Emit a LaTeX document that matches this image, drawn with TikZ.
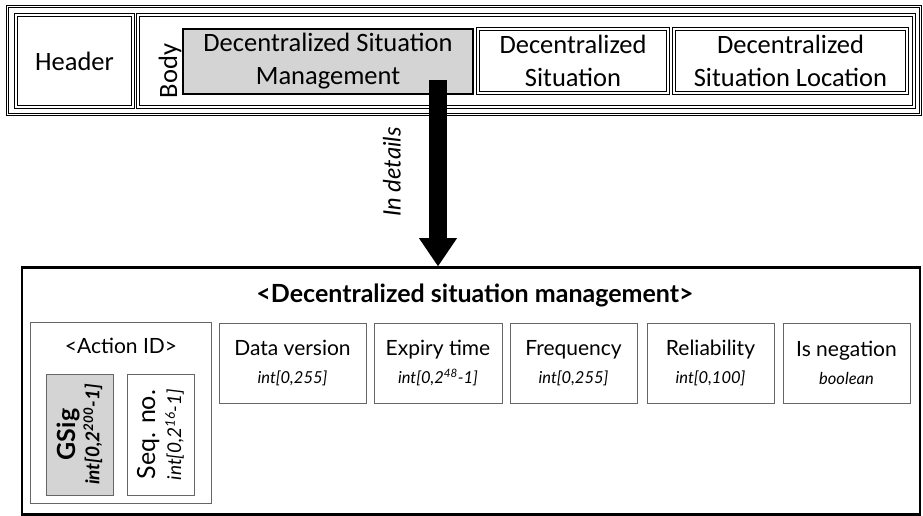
\documentclass[tikz,border=0pt]{standalone}
\usepackage{fontspec}
\setmainfont{Lato}
\newfontfamily\calfont{Carlito}
\usetikzlibrary{arrows.meta, positioning}

\newcommand{\fieldtext}[2]{#1\\{\fontsize{16.5}{28}\selectfont\itshape #2}}

\begin{document}
\begin{tikzpicture}[
    x=1pt, y=-1pt,
    frame/.style={rectangle, draw=black, double=white, double distance=1.6pt, line width=1.1pt, inner sep=0pt},
    msgbox/.style={rectangle, draw=black, double=white, double distance=1.6pt, line width=0.9pt,
                   align=center, inner sep=0pt, font=\calfont\fontsize{26.5}{33}\selectfont},
    selbox/.style={rectangle, draw, line width=2.2pt, fill=black!17,
                   align=center, inner sep=0pt, font=\calfont\fontsize{26.5}{33}\selectfont},
    field/.style={rectangle, draw=black!60, line width=0.9pt, align=center,
                  inner sep=0pt, font=\fontsize{21}{28}\selectfont},
    bigarrow/.style={-{Triangle[width=38pt, length=28pt, line width=0pt]}, line width=18pt}
  ]
  \useasboundingbox (0,0) rectangle (923,516);

  % ===== MESSAGE =====
  \node[frame, minimum width=913pt, minimum height=108pt] (msg) at (464,60.5) {};
  \node[msgbox, minimum width=117pt, minimum height=92pt] (header) at (74.5,61) {Header};
  \node[msgbox, minimum width=776pt, minimum height=92pt] (body) at (526,61) {};
  \node[rotate=90, font=\calfont\fontsize{26.5}{30}\selectfont] (bodylbl) at (170,71) {Body};

  % ===== BODY CONTAINERS =====
  \node[selbox, minimum width=290pt, minimum height=65pt] (dsm) at (328,61.5) {Decentralized Situation\\Management};
  \node[msgbox, minimum width=190pt, minimum height=64pt] (ds) at (573,61) {Decentralized\\Situation};
  \node[msgbox, minimum width=233pt, minimum height=64pt] (dsl) at (790.5,61) {Decentralized\\Situation Location};

  % ===== DETAIL VIEW =====
  \node[rectangle, draw, line width=2.6pt, minimum width=898pt, minimum height=247pt] (detail) at (471,391) {};
  \node[font=\fontsize{25}{28}\selectfont\bfseries] (title) at (475,295) {<Decentralized situation management>};

  % Action ID with its two parts
  \node[field, minimum width=181pt, minimum height=181pt] (actid) at (120.5,412.5) {};
  \node[font=\fontsize{21}{28}\selectfont] (actidlbl) at (121,346) {<Action ID>};
  \node[field, fill=black!17, rotate=90, minimum width=121pt, minimum height=67pt, font=\fontsize{25}{24}\selectfont\bfseries]
    (gsig) at (79.5,434.5) {GSig\\{\fontsize{19}{24}\selectfont\bfseries\itshape int[0,2\textsuperscript{200}-1]}};
  \node[field, rotate=90, minimum width=121pt, minimum height=67pt, font=\fontsize{25}{26}\selectfont]
    (seq) at (160.5,434.5) {Seq. no.\\{\fontsize{19}{26}\selectfont\itshape int[0,2\textsuperscript{16}-1]}};

  % Other fields
  \node[field, minimum width=147pt, minimum height=80pt] (dataver) at (292.5,363) {\fieldtext{Data version}{int[0,255]}};
  \node[field, minimum width=128pt, minimum height=80pt] (expiry) at (438,363) {\fieldtext{Expiry time}{int[0,2\textsuperscript{48}-1]}};
  \node[field, minimum width=127pt, minimum height=80pt] (freq) at (573.5,363) {\fieldtext{Frequency}{int[0,255]}};
  \node[field, minimum width=127pt, minimum height=80pt] (reliab) at (710.5,363) {\fieldtext{Reliability}{int[0,100]}};
  \node[field, minimum width=127pt, minimum height=80pt] (isneg) at (846.5,363) {\fieldtext{Is negation}{boolean}};

  % ===== ARROW =====
  \coordinate (arrtop) at (438,80);
  \draw[bigarrow] (arrtop) -- (arrtop |- detail.north);
  \node[rotate=90, font=\fontsize{24}{26}\selectfont\itshape] (arrlbl) at (392,172) {In details};

\end{tikzpicture}
\end{document}
